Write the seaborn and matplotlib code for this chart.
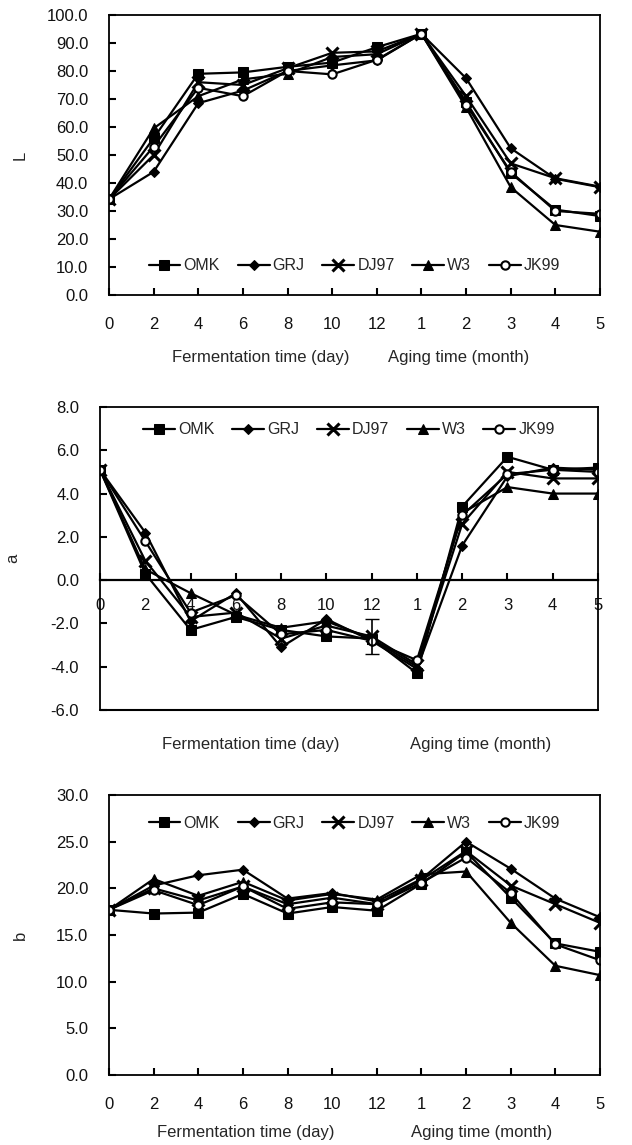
import matplotlib
matplotlib.use("Agg")
import matplotlib.pyplot as plt
import seaborn as sns
import numpy as np
import pandas as pd

# x categories: fermentation days then aging months
tick_labels = ['0', '2', '4', '6', '8', '10', '12', '1', '2', '3', '4', '5']
strains = ['OMK', 'GRJ', 'DJ97', 'W3', 'JK99']

L_OMK = [34.2, 56.0, 79.0, 79.5, 81.5, 83.0, 88.5, 93.3, 69.0, 43.5, 30.5, 28.2]
L_GRJ = [34.2, 44.0, 68.5, 73.0, 80.0, 82.0, 83.8, 93.3, 77.4, 52.4, 41.5, 38.5]
L_DJ97 = [34.2, 50.0, 76.0, 75.0, 81.0, 86.5, 87.0, 93.3, 71.0, 47.0, 41.7, 38.7]
L_W3 = [34.2, 59.5, 71.0, 77.0, 79.0, 85.0, 86.0, 93.3, 67.0, 38.5, 25.0, 22.6]
L_JK99 = [34.2, 53.0, 74.0, 71.0, 80.0, 78.8, 84.0, 93.3, 68.0, 44.0, 30.0, 29.0]

a_OMK = [5.1, 0.3, -2.3, -1.7, -2.3, -2.6, -2.7, -4.3, 3.4, 5.7, 5.1, 5.2]
a_GRJ = [5.1, 2.2, -1.9, -0.6, -3.1, -1.8, -2.8, -4.1, 1.6, 4.8, 5.2, 5.1]
a_DJ97 = [5.1, 0.9, -1.7, -1.5, -2.7, -2.1, -2.6, -3.9, 2.6, 5.0, 4.7, 4.7]
a_W3 = [5.1, 0.5, -0.6, -1.6, -2.2, -1.9, -2.7, -4.0, 3.1, 4.3, 4.0, 4.0]
a_JK99 = [5.1, 1.8, -1.5, -0.7, -2.5, -2.3, -2.8, -3.7, 3.0, 4.9, 5.1, 5.0]
a_DJ97_err = [0, 0, 0, 0, 0, 0, 0.8, 0, 0, 0, 0, 0]

b_OMK = [17.7, 17.3, 17.4, 19.4, 17.3, 18.0, 17.6, 20.5, 23.9, 19.0, 14.1, 13.2]
b_GRJ = [17.7, 20.3, 21.4, 22.0, 18.9, 19.5, 18.6, 21.0, 25.0, 22.1, 18.9, 16.9]
b_DJ97 = [17.7, 20.0, 18.7, 20.2, 18.3, 19.0, 18.3, 20.9, 24.0, 20.3, 18.3, 16.3]
b_W3 = [17.7, 21.0, 19.2, 20.7, 18.7, 19.4, 18.8, 21.5, 21.8, 16.3, 11.7, 10.7]
b_JK99 = [17.7, 19.8, 18.2, 20.2, 17.8, 18.5, 18.3, 20.6, 23.3, 19.5, 14.0, 12.3]

panels = {
    'L': [L_OMK, L_GRJ, L_DJ97, L_W3, L_JK99],
    'a': [a_OMK, a_GRJ, a_DJ97, a_W3, a_JK99],
    'b': [b_OMK, b_GRJ, b_DJ97, b_W3, b_JK99],
}

sns.set_theme(style="white")
plt.rcParams['font.family'] = ['Liberation Sans', 'DejaVu Sans']

styles = {
    'OMK': dict(marker='s', ms=7, mfc='black'),
    'GRJ': dict(marker='D', ms=5, mfc='black'),
    'DJ97': dict(marker='x', ms=8, mew=2.2, mfc='black'),
    'W3': dict(marker='^', ms=7, mfc='black'),
    'JK99': dict(marker='o', ms=6, mfc='white', mew=1.5),
}

pos = np.arange(len(tick_labels))

fig = plt.figure(figsize=(6.32, 11.45), dpi=100)
W, H = 632, 1145

def axes_px(l, t, r, b):
    return fig.add_axes([l / W, 1 - b / H, (r - l) / W, (b - t) / H])

ax1 = axes_px(109, 15, 600, 295)
ax2 = axes_px(100, 407, 598, 710)
ax3 = axes_px(109, 795, 600, 1075)

cfg = [
    (ax1, 'L', (0, 100), 10, 0.105, (261, 358), (459, 358), -0.165),
    (ax2, 'a', (-6, 8), 2, 0.925, (251, 745), (481, 745), -0.16),
    (ax3, 'b', (0, 30), 5, 0.90, (246, 1132), (482, 1132), -0.165),
]

for ax, name, ylim, step, leg_y, ferm_xy, aging_xy, ylab_x in cfg:
    df = pd.DataFrame({s: v for s, v in zip(strains, panels[name])})
    df['pos'] = pos
    for s in strains:
        sns.lineplot(data=df, x='pos', y=s, color='black', lw=1.6,
                     mec='black', label=s, ax=ax, **styles[s])
    if name == 'a':
        err = np.array(a_DJ97_err)
        idx = err > 0
        ax.errorbar(pos[idx], np.array(a_DJ97)[idx], yerr=err[idx],
                    fmt='none', ecolor='black', elinewidth=1.2, capsize=5)
    ax.set_xlim(0, len(pos) - 1)
    ax.set_ylim(*ylim)
    ax.set_yticks(np.arange(ylim[0], ylim[1] + step / 2, step))
    ax.yaxis.set_major_formatter(matplotlib.ticker.FormatStrFormatter('%.1f'))
    ax.set_xticks(pos)
    ax.set_xticklabels(tick_labels)
    ax.tick_params(axis='both', direction='in', length=5, width=1.5,
                   color='black', labelsize=12, labelcolor='#111111',
                   left=True, bottom=True, top=False, right=False)
    ax.tick_params(axis='y', pad=15)
    ax.tick_params(axis='x', pad=16)
    for sp in ax.spines.values():
        sp.set_color('black')
        sp.set_linewidth(1.3)
    if name == 'a':
        ax.spines['bottom'].set_position(('data', 0))
        ax.spines['bottom'].set_linewidth(1.6)
        ax.axhline(ylim[0], color='black', lw=1.5, clip_on=False)
        ax.tick_params(axis='x', pad=13)
    ax.set_xlabel('')
    ax.set_ylabel(name, fontsize=12, rotation=90)
    ax.yaxis.set_label_coords(ylab_x, 0.5)
    leg = ax.legend(loc='center', bbox_to_anchor=(0.5, leg_y), ncol=5,
                    frameon=False, fontsize=11.5, handlelength=2.0,
                    handletextpad=0.2, columnspacing=1.1, borderaxespad=0)
    fig.text(ferm_xy[0] / W, 1 - ferm_xy[1] / H, 'Fermentation time (day)',
             ha='center', va='center', fontsize=12)
    fig.text(aging_xy[0] / W, 1 - aging_xy[1] / H, 'Aging time (month)',
             ha='center', va='center', fontsize=12)

fig.savefig('out.png', dpi=100)
